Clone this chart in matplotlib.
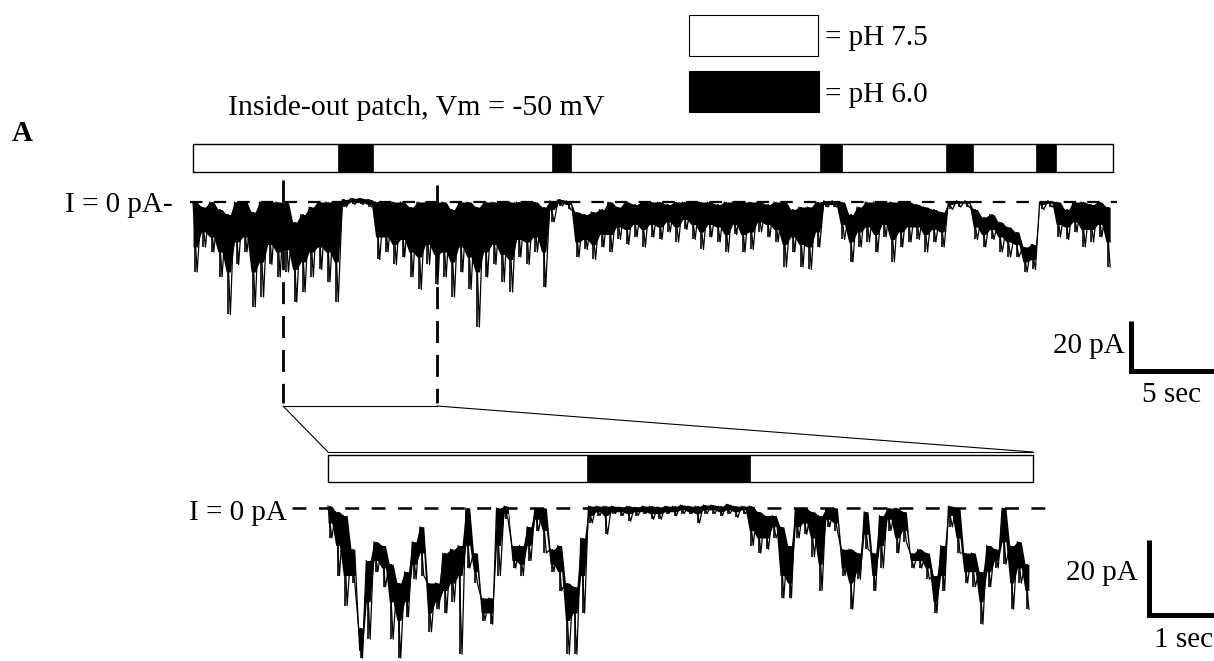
import numpy as np
import matplotlib
matplotlib.use("Agg")
import matplotlib.pyplot as plt
from matplotlib.patches import Rectangle, ConnectionPatch

plt.rcParams['font.family'] = ['Liberation Serif', 'DejaVu Serif']
plt.rcParams['lines.scale_dashes'] = False

# ---------------- data ----------------
# upper record: 0.5 s bins; hi = upper edge, core = lower edge of the dense band,
# lo = tip of the deepest opening in the bin (all pA)
top_dt = 0.5
top_hi = [0, -2, 0, -3, -5, 0, 0, -4, 0, 0, 0, 0, -8, -5, -2, 0, 0, 0, 1, 1.5,
          1.5, 1, 0, 0, 0, 0, -2, 0, 0, 0, 0, -3, 0, 0, -2, 0, 0, 0, 0, 0,
          0, 0, -2, 0.5, 1, 0.5, -4, -5, -4, -3, 0, -2, 0, -1, 0, 0, 0, -1, 0, 0,
          0, 0, 0, -1, 0, 0, 0, 0, 0, -1, 0, 0, -3, -2, -2, 0, 0.5, 0.5, 0, -5,
          -2, 0, 0, 0, 0, 0, 0, -1, -2, -3, -4, 0, 0.5, 0.5, -3, -6, -5, -8, -10, -12,
          -18, -17, 0, 0.5, 0, -3, 0, 0, -1, 0, -2]
top_core = [-18, -12, -14, -20, -28, -16, -14, -28, -24, -17, -20, -19, -27, -24, -20, -18, -20, -24,
            -1, 0, 0, -1,
            -14, -14, -17, -15, -20, -22, -17, -21, -20, -24, -18, -22, -28, -20, -17, -21, -23, -15, -16, -14, -20,
            -3, -0.5, -1,
            -16, -15, -17, -13, -13, -10, -11, -9,
            -11, -9, -10, -8, -10, -7, -9, -12, -9, -10, -13, -9, -13, -12, -8, -9, -11, -17, -14, -17, -18, -12,
            -1, -1,
            -9, -16, -12, -10, -13, -9, -15, -12, -10, -10, -13, -11, -12,
            -1, -0.5, -0.5,
            -10, -13, -11, -14, -16, -17, -24, -23,
            -1, -0.5,
            -9, -10, -8, -11, -11, -9, -16]
top_lo = [-28, -18, -20, -30, -45, -25, -20, -42, -38, -25, -30, -28, -40, -36, -30, -27, -32, -40, -2, -1,
          -1, -2, -23, -20, -25, -22, -30, -35, -25, -33, -30, -38, -28, -35, -50, -30, -25, -32, -36, -22,
          -25, -20, -34, -8, -1.5, -3, -22, -19, -23, -18, -20, -15, -17, -14, -18, -14, -15, -12, -16, -11,
          -15, -19, -14, -16, -20, -13, -20, -19, -12, -14, -16, -26, -20, -26, -27, -18, -2, -2, -15, -24,
          -18, -16, -20, -14, -24, -18, -16, -15, -20, -16, -18, -3, -2, -2, -15, -18, -15, -20, -22, -22,
          -28, -27, -3, -2, -14, -15, -12, -18, -16, -14, -26]
top_len = 55.42                      # s, length of the solution bar
top_acid = [(8.73, 2.11), (21.63, 1.14), (37.77, 1.33), (45.36, 1.63), (50.78, 1.21)]
zoom_win = (5.42, 14.70)             # s, stretch shown below

# lower record: 0.1 s bins
bot_dt = 0.1
bot_hi = [0.5, -1, -2, -11, -32, -14, -9, -10, -15, -20, -17, -9, -5, -20, -20, -12, -11, -10, 0, -12,
          -24, -24, 0, 0.5, -10, -10, -5, 0, 0, -11, -10, -20, -21, -8, 0.5, 0.5, 0.5, 0.5, 0.3, 0.5,
          0.2, 0.5, 0.5, 0.3, 0.5, 0.5, 0.8, 0.5, 0.5, 0.8, 0.8, 0.5, 1, 0.5, 0.5, 0.5, -1, -2, -2, -5,
          -10, 0, 0, -1, -2, 0, 0, -11, -11, -12, -1, -12, -2, 0, 0, -1, -12, -11, -12, -18,
          -10, 0.5, 0, -12, -12, -17, -10, -11, 0, -10, -9, -15]
bot_core = [-4, -10, -18, -18, -38, -25, -14, -16, -25, -30,
            -25, -15, -12, -28, -25, -22, -20, -18, -10, -17,
            -28, -28, -10, -1.5, -14, -15, -10, -3, -6, -15,
            -17, -30, -28, -18, -2, -1, -2, -1, -1, -1.5,
            -1, -1, -1.5, -1.5, -1, -1, -0.5, -1, -1.5, -0.5,
            -0.5, -1, -0.5, -1, -0.5, -6, -8, -8, -5, -18,
            -20, -5, -4, -8, -15, -3, -4, -16, -20, -17,
            -7, -18, -10, -3, -8, -6, -14, -14, -16, -25,
            -18, -2, -8, -17, -17, -25, -17, -14, -9, -20, -16, -22]
bot_lo = [-8, -18, -26, -20, -40, -35, -17, -21, -35, -40, -29, -19, -18, -33, -27, -28, -25, -39, -16, -20,
          -30, -31, -18, -3, -16, -18, -14, -6, -12, -17, -22, -39, -39, -28, -4, -2, -7, -1.5, -2, -3.5,
          -2, -1.5, -3, -3, -1.5, -2, -1.5, -1.5, -4, -1.5, -1.5, -2, -1.5, -2.5, -1.5, -10, -12, -11, -8, -24,
          -24, -8, -7, -13, -22, -5, -6, -18, -27, -19, -11, -22, -16, -6, -12, -9, -16, -16, -19, -28,
          -22, -5, -12, -20, -21, -31, -21, -16, -15, -27, -20, -27]
bot_len = 9.2
bot_acid = [(3.38, 2.13)]

scale_top = (5, 20)                  # s, pA
scale_bot = (1, 20)

# ---------------- layout (pixels of the 1214 x 661 picture) ----------------
W, H = 1214, 661
top_x0, top_pxs, top_y0, top_pxa = 193, 16.6, 202, 2.5
bot_x0, bot_pxs, bot_y0, bot_pxa = 328, 76.6, 508, 3.75

fig = plt.figure(figsize=(W / 100, H / 100), dpi=100)


def trace_axes(x0, pxs, y0, pxa):
    ax = fig.add_axes([0, 0, 1, 1])
    ax.set_xlim(-x0 / pxs, (W - x0) / pxs)
    ax.set_ylim((y0 - H) / pxa, y0 / pxa)
    ax.axis('off')
    ax.patch.set_visible(False)
    return ax


def draw_trace(ax, hi, core, lo, dt):
    hi, core, lo = map(np.asarray, (hi, core, lo))
    t = np.arange(len(hi)) * dt
    x = np.column_stack([t, t + dt / 2]).ravel()
    # dense band of the record
    ax.fill_between(x, np.repeat(hi, 2), np.repeat(core, 2), color='black', lw=0)
    # brief openings
    ax.vlines(t + dt / 4, hi, lo, color='black', lw=1.2)
    ax.plot(x, np.column_stack([hi, lo]).ravel(), color='black', lw=0.9)


ax1 = trace_axes(top_x0, top_pxs, top_y0, top_pxa)
ax2 = trace_axes(bot_x0, bot_pxs, bot_y0, bot_pxa)

# upper panel
ax1.broken_barh([(0, top_len)], (12, 11.2), facecolor='white', edgecolor='black', lw=1)
ax1.broken_barh(top_acid, (12, 11.2), facecolor='black', edgecolor='black', lw=0.5)
ax1.plot([-0.18, 55.66], [0, 0], color='black', lw=1.6, ls=(0, (9, 8)))
draw_trace(ax1, top_hi, top_core, top_lo, top_dt)
for t, ytop in zip(zoom_win, (8.8, 6.8)):
    ax1.plot([t, t], [ytop, -80.4], color='black', lw=2.0, ls=(0, (15.8, 8.6)))
ax1.text(-1.2, -4, 'I = 0 pA-', ha='right', va='baseline', fontsize=21)

sx, sy = 56.5, -67.6
ax1.plot([sx, sx, sx + scale_top[0] * 1.2], [sy + scale_top[1], sy, sy],
         color='black', lw=3.6, solid_joinstyle='miter', solid_capstyle='butt', clip_on=False)
ax1.text(sx - 0.35, -60.4, '%d pA' % scale_top[1], ha='right', va='baseline', fontsize=21)
ax1.text(57.17, -80, '%d sec' % scale_top[0], ha='left', va='baseline', fontsize=21)

# lower panel
ax2.broken_barh([(0, bot_len)], (6.93, 7.2), facecolor='white', edgecolor='black', lw=1)
ax2.broken_barh(bot_acid, (6.93, 7.2), facecolor='black', edgecolor='black', lw=0.5)
ax2.plot([-0.47, 9.43], [0, 0], color='black', lw=1.8, ls=(0, (10, 9)))
draw_trace(ax2, bot_hi, bot_core, bot_lo, bot_dt)
ax2.text(-0.535, -3.2, 'I = 0 pA', ha='right', va='baseline', fontsize=21)

sx, sy = 10.72, -28.5
ax2.plot([sx, sx, sx + scale_bot[0] * 1.2], [sy + scale_bot[1], sy, sy],
         color='black', lw=3.6, solid_joinstyle='miter', solid_capstyle='butt', clip_on=False)
ax2.text(10.57, -19.2, '%d pA' % scale_bot[1], ha='right', va='baseline', fontsize=21)
ax2.text(10.78, -37.1, '%d sec' % scale_bot[0], ha='left', va='baseline', fontsize=21)

# zoom outline
ybot_top = -81.6
ybot_low = 14.93
ax1.plot(zoom_win, [ybot_top, ybot_top], color='black', lw=0.8)
ax2.plot([0, bot_len], [ybot_low, ybot_low], color='black', lw=0.8)
for t_top, t_bot in zip(zoom_win, (0, bot_len)):
    fig.add_artist(ConnectionPatch((t_top, ybot_top), (t_bot, ybot_low),
                                   coordsA=ax1.transData, coordsB=ax2.transData,
                                   color='black', lw=0.8))

# labels, legend (pixel overlay)
lay = fig.add_axes([0, 0, 1, 1])
lay.set_xlim(0, W)
lay.set_ylim(H, 0)
lay.axis('off')
lay.patch.set_visible(False)
lay.text(12, 141, 'A', fontsize=21, fontweight='bold', ha='left', va='baseline')
lay.text(228, 115, 'Inside-out patch, Vm = -50 mV', fontsize=21.5, ha='left', va='baseline')
lay.add_patch(Rectangle((689, 15), 129, 41, facecolor='white', edgecolor='black', lw=0.8))
lay.add_patch(Rectangle((689, 71), 130, 41, facecolor='black', edgecolor='black', lw=0.8))
lay.text(825, 45, '= pH 7.5', fontsize=21, ha='left', va='baseline')
lay.text(825, 102, '= pH 6.0', fontsize=21, ha='left', va='baseline')

fig.savefig('out.png', dpi=100, facecolor='white')
